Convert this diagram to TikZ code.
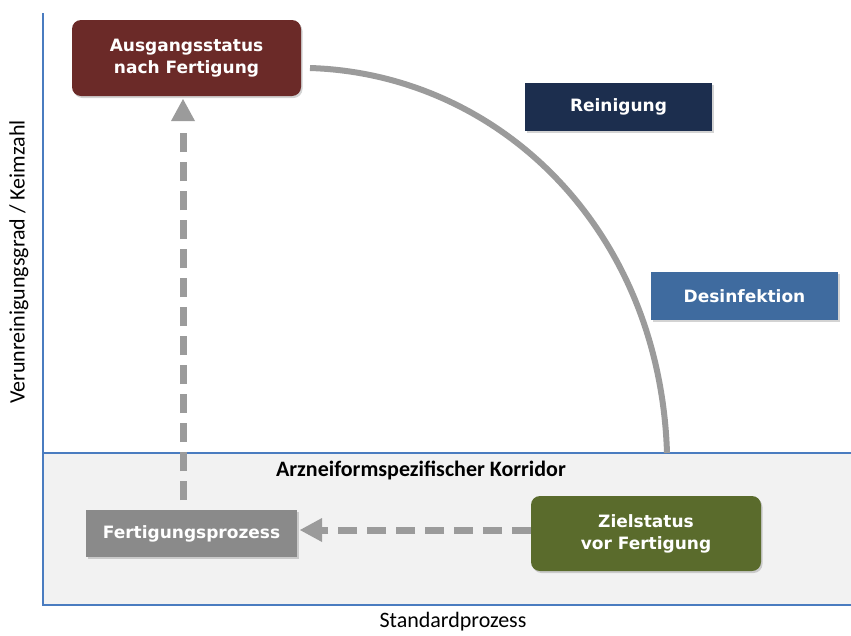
\documentclass[tikz,border=0pt]{standalone}
\usepackage{fontspec}
\setmainfont{Carlito}
\newfontfamily\boxfont{DejaVu Sans}
\usetikzlibrary{shadows,arrows.meta}
\definecolor{axisblue}{HTML}{4A7CC0}
\definecolor{corrbg}{HTML}{F2F2F2}
\definecolor{ausred}{HTML}{6B2A28}
\definecolor{reinnavy}{HTML}{1C2E4E}
\definecolor{desblue}{HTML}{3F6B9F}
\definecolor{fertgray}{HTML}{8A8A8A}
\definecolor{zielgreen}{HTML}{5A6B2C}
\definecolor{linegray}{HTML}{9B9B9B}
\tikzset{
  boxbase/.style={draw=none, text=white, align=center, font=\boxfont\bfseries\fontsize{17}{22}\selectfont,
    inner sep=0pt, drop shadow={shadow xshift=1.5pt, shadow yshift=-2pt, opacity=0.35}},
  roundbox/.style={boxbase, rounded corners=9pt},
  rectbox/.style={boxbase},
  dasharrow/.style={draw=linegray, line width=7pt, dash pattern=on 19pt off 10pt},
  arrowtip/.style={fill=linegray, draw=none},
  axislabel/.style={font=\fontsize{22}{26}\selectfont}
}
\begin{document}
\begin{tikzpicture}[x=1pt,y=-1pt]
\useasboundingbox (0,0) rectangle (851,635);
% corridor
\fill[corrbg] (43,453) rectangle (851,605);
\draw[axisblue, line width=1.5pt] (43,453) -- (851,453);
% axes
\draw[axisblue, line width=2.5pt] (43,13) -- (43,605) -- (851,605);
% labels
\node[rotate=90, axislabel] (ylab) at (19,262) {Verunreinigungsgrad / Keimzahl};
\node[axislabel] (xlab) at (453,622) {Standardprozess};
\node[axislabel, font=\bfseries\fontsize{22}{26}\selectfont] (korr) at (421,470) {Arzneiformspezifischer Korridor};
% boxes
\node[roundbox, fill=ausred, minimum width=229pt, minimum height=76pt] (aus) at (186.5,58) {Ausgangsstatus\\nach Fertigung};
\node[rectbox, fill=reinnavy, minimum width=187pt, minimum height=48pt] (rein) at (618.5,107) {Reinigung};
\node[rectbox, fill=desblue, minimum width=187pt, minimum height=48pt] (des) at (744.5,296) {Desinfektion};
\node[rectbox, fill=fertgray, minimum width=211pt, minimum height=47pt] (fert) at (191.5,533.5) {Fertigungsprozess};
\node[roundbox, fill=zielgreen, minimum width=230pt, minimum height=75pt] (ziel) at (646,533.5) {Zielstatus\\vor Fertigung};
% curve
\coordinate (cstart) at (310,68);
\coordinate (cend) at (667,453);
\draw[linegray, line width=6pt] (cstart) .. controls (500,74) and (660,230) .. (cend);
% dashed arrows
\coordinate (vbot) at (183,500);
\coordinate (vtop) at (183,123);
\draw[dasharrow] (vbot) -- (vtop);
\fill[arrowtip] (183,99) -- (171,121) -- (195,121) -- cycle;
\coordinate (hstart) at (531,530);
\coordinate (hend) at (322,530);
\draw[dasharrow] (hstart) -- (hend);
\fill[arrowtip] (300,530) -- (322,518) -- (322,542) -- cycle;
\end{tikzpicture}
\end{document}
